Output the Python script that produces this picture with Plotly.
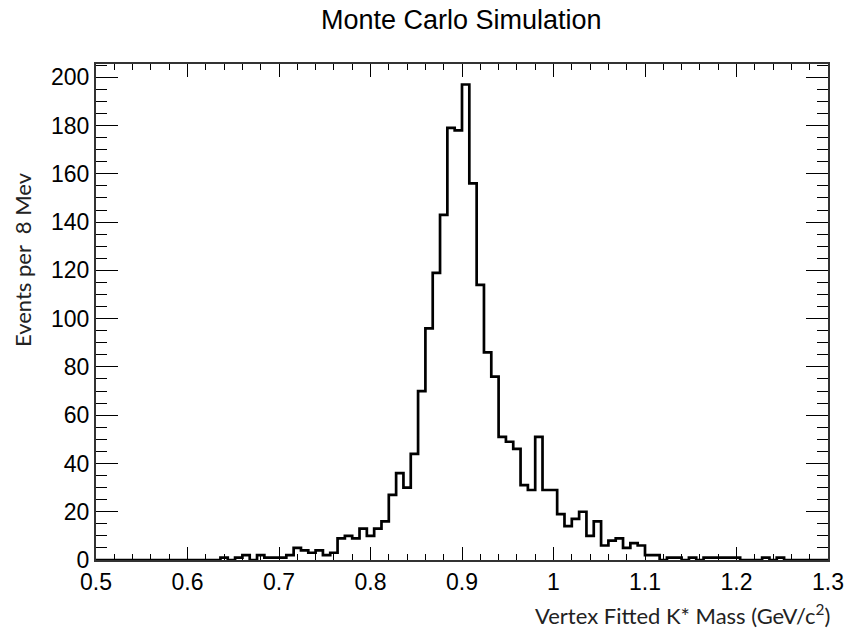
import plotly.graph_objects as go

# ---- data ----
bin_low = 0.5
bin_width = 0.008
counts = [0] * 17 + [
    1, 0, 1, 2, 0, 2, 1, 1, 1, 2,          # 17-26
    5, 4, 3, 4, 2, 3, 9, 10, 9, 13,        # 27-36
    10, 13, 16, 27, 36, 30, 44, 70, 96, 119,  # 37-46
    143, 179, 178, 197, 156, 114, 86, 76, 51, 49,  # 47-56
    46, 31, 29, 51, 29, 29, 19, 14, 17, 20,  # 57-66
    10, 16, 6, 8, 9, 5, 7, 6, 2, 2,        # 67-76
    0, 1, 1, 0, 1, 0, 1, 1, 1, 1,          # 77-86
    1, 0, 0, 0, 1, 0, 1, 0, 0, 0,          # 87-96
    0, 0, 0,                               # 97-99
]
x_tickvals = [0.5, 0.6, 0.7, 0.8, 0.9, 1.0, 1.1, 1.2, 1.3]
x_ticktext = ["0.5", "0.6", "0.7", "0.8", "0.9", "1", "1.1", "1.2", "1.3"]
y_tickvals = [0, 20, 40, 60, 80, 100, 120, 140, 160, 180, 200]

title_text = "Monte Carlo Simulation"
xtitle_text = "Vertex Fitted K* Mass (GeV/c<sup>2</sup>)"
ytitle_text = "Events per  8 Mev"

# step outline from bin edges
edges = [bin_low + i * bin_width for i in range(len(counts) + 1)]
ys = counts + [counts[-1]]

fig = go.Figure()
fig.add_trace(go.Scatter(
    x=edges, y=ys, mode="lines", line=dict(shape="hv", color="black", width=2.7),
    hoverinfo="skip", showlegend=False,
))

tick_font = dict(family="Liberation Sans, Arial, sans-serif", size=23, color="black")

plot_l, plot_r, plot_t, plot_b = 96, 20, 64, 76
plot_w = 856 - plot_l - plot_r
plot_h = 636 - plot_t - plot_b

fig.update_layout(
    width=856, height=636,
    margin=dict(l=plot_l, r=plot_r, t=plot_t, b=plot_b),
    paper_bgcolor="white", plot_bgcolor="white",
    showlegend=False,
    xaxis=dict(
        range=[0.5, 1.3], tickvals=x_tickvals, ticktext=x_ticktext,
        ticks="inside", ticklen=13, tickwidth=1.3, tickcolor="black",
        showline=True, linecolor="#333", linewidth=2, mirror="ticks",
        showgrid=False, zeroline=False, tickfont=tick_font,
        minor=dict(dtick=0.02, tick0=0.5, ticks="inside", ticklen=6, tickwidth=1.3,
                   tickcolor="black", showgrid=False),
    ),
    yaxis=dict(
        range=[0, 205.5], tickvals=y_tickvals,
        ticks="inside", ticklen=22, tickwidth=1.3, tickcolor="black",
        showline=True, linecolor="#333", linewidth=2, mirror="ticks",
        showgrid=False, zeroline=False, tickfont=tick_font,
        minor=dict(dtick=5, tick0=0, ticks="inside", ticklen=11, tickwidth=1.3,
                   tickcolor="black", showgrid=False),
    ),
    annotations=[
        dict(text=title_text, x=(465 - plot_l) / plot_w, y=(636 - plot_b - 20) / plot_h,
             xref="paper", yref="paper", xanchor="center", yanchor="middle",
             showarrow=False, font=dict(family="Liberation Sans, Arial", size=27, color="black")),
        dict(text=xtitle_text, x=1.0, y=0, xref="paper", yref="paper",
             xanchor="right", yanchor="top", yshift=-38, xshift=4, showarrow=False,
             font=dict(family="Lato, Open Sans, sans-serif", size=22, color="#222")),
        dict(text=ytitle_text, x=0, y=(560 - 247) / plot_h, xref="paper", yref="paper",
             xanchor="center", yanchor="middle", xshift=-74, yshift=-13, textangle=-90,
             showarrow=False,
             font=dict(family="Lato, Open Sans, sans-serif", size=22, color="#222")),
    ],
)

fig.write_html("out.html")
